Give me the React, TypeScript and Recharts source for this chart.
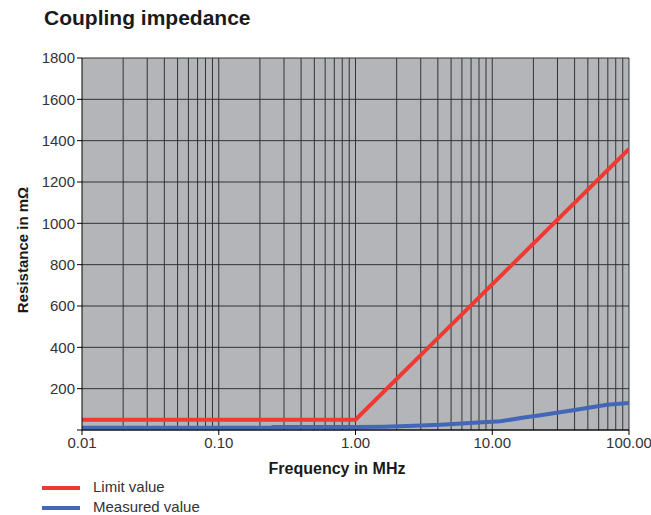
import React from 'react';
import { LineChart, Line, XAxis, YAxis, CartesianGrid, ReferenceLine } from 'recharts';

const limitFreq = [0.01, 1, 100];
const limitValues = [50, 50, 1360];

const measuredFreq = [0.01, 0.24, 0.25, 1, 1.6, 2.4, 4.2, 7.9, 10, 11.5, 17, 22.5, 39, 69, 100];
const measuredValues = [11, 11, 14, 14, 16, 19, 26, 36, 40, 42, 60, 71, 96, 122, 131];

const xTicks = [0.01, 0.1, 1, 10, 100];
const yTicks = [0, 200, 400, 600, 800, 1000, 1200, 1400, 1600, 1800];
const gridFreqs = [0.02, 0.03, 0.04, 0.05, 0.06, 0.07, 0.08, 0.09, 0.1, 0.2, 0.3, 0.4, 0.5, 0.6, 0.7, 0.8, 0.9, 1, 2, 3, 4, 5, 6, 7, 8, 9, 10, 20, 30, 40, 50, 60, 70, 80, 90, 100];

const limitData = limitFreq.map((f, i) => ({ f, v: limitValues[i] }));
const measuredData = measuredFreq.map((f, i) => ({ f, v: measuredValues[i] }));

const FONT = '"Liberation Sans", Arial, Helvetica, sans-serif';

export default function App() {
  return (
    <div style={{ position: 'absolute', left: 0, top: 0, width: 651, height: 515, background: '#fff', fontFamily: FONT }}>
      <div style={{ position: 'absolute', left: 44, top: 6, fontSize: 21, fontWeight: 'bold', color: '#1a1a1a', whiteSpace: 'nowrap' }}>
        Coupling impedance
      </div>
      <LineChart width={651} height={515} margin={{ top: 58, right: 22, bottom: 0, left: 0 }}>
        <CartesianGrid fill="#b4b5b9" stroke="#333" strokeWidth={1} strokeOpacity={1} vertical={false} />
        {gridFreqs.map((g) => (
          <ReferenceLine key={g} x={g} stroke="#333" strokeWidth={1} ifOverflow="visible" />
        ))}
        <XAxis
          type="number"
          dataKey="f"
          scale="log"
          domain={[0.01, 100]}
          allowDataOverflow
          ticks={xTicks}
          tickFormatter={(v: number) => v.toFixed(2)}
          height={85}
          tick={{ fill: '#333', fontSize: 15, fontFamily: FONT }}
          tickLine={{ stroke: '#000' }}
          axisLine={{ stroke: '#000' }}
          tickSize={5}
          label={{
            content: () => (
              <text x={337} y={474} textAnchor="middle" fontSize={16} fontWeight="bold" fill="#1a1a1a" fontFamily={FONT}>
                Frequency in MHz
              </text>
            ),
          }}
        />
        <YAxis
          type="number"
          domain={[0, 1800]}
          ticks={yTicks}
          interval={0}
          width={82}
          tickFormatter={(v: number) => (v === 0 ? '' : String(v))}
          tick={{ fill: '#333', fontSize: 15, fontFamily: FONT }}
          tickLine={{ stroke: '#000' }}
          axisLine={{ stroke: '#000' }}
          tickSize={5}
          label={{
            content: () => (
              <text
                x={22}
                y={250}
                transform="rotate(-90 22 250)"
                textAnchor="middle"
                dominantBaseline="central"
                fontSize={15}
                fontWeight="bold"
                fill="#1a1a1a"
                fontFamily={FONT}
              >
                Resistance in mΩ
              </text>
            ),
          }}
        />
        <Line data={limitData} dataKey="v" type="linear" stroke="#ee3a32" strokeWidth={4} dot={false} isAnimationActive={false} />
        <Line data={measuredData} dataKey="v" type="linear" stroke="#4266b8" strokeWidth={4} dot={false} isAnimationActive={false} />
      </LineChart>
      <div style={{ position: 'absolute', left: 42, top: 486, width: 38, height: 4, background: '#ee3a32' }} />
      <div style={{ position: 'absolute', left: 93, top: 478, fontSize: 15, color: '#333', whiteSpace: 'nowrap' }}>Limit value</div>
      <div style={{ position: 'absolute', left: 42, top: 506, width: 38, height: 4, background: '#4266b8' }} />
      <div style={{ position: 'absolute', left: 93, top: 498, fontSize: 15, color: '#333', whiteSpace: 'nowrap' }}>Measured value</div>
    </div>
  );
}
